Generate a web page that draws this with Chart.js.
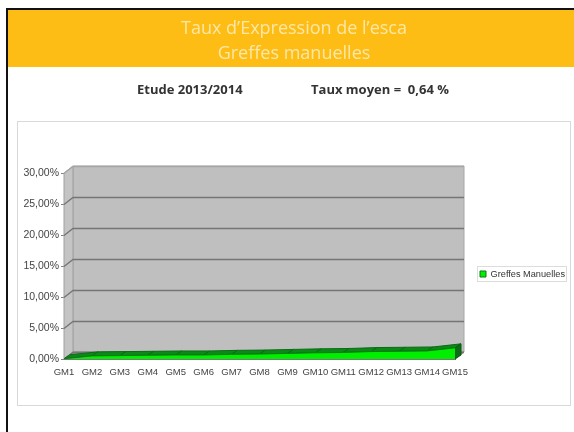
<!DOCTYPE html>
<html lang="fr">
<head>
<meta charset="utf-8">
<script src="https://cdn.jsdelivr.net/npm/chart.js@4"></script>
<style>
  html,body{margin:0;padding:0;background:#fff;width:574px;height:432px;overflow:hidden}
  #page{position:absolute;left:0;top:0;width:574px;height:432px;filter:blur(0.55px)}
  .abs{position:absolute}
  #edgeTop{left:6px;top:8px;width:568px;height:2px;background:#111}
  #edgeLeft{left:6px;top:8px;width:2px;height:424px;background:#111}
  #banner{left:8px;top:10px;width:566px;height:57px;background:#fdbd14}
  .t{font-family:"Open Sans",sans-serif;white-space:nowrap}
  .title{color:#fde7a8;font-size:18px;line-height:20px;left:0;width:574px;text-align:center;transform:translateX(7px)}
  .sub{color:#333;font-size:13px;font-weight:700;line-height:16px;top:81px}
  #panel{left:17px;top:121px;width:552px;height:283px;border:1.5px solid #d9d9d9;box-sizing:content-box}
  canvas{position:absolute;left:0;top:0}
</style>
</head>
<body>
<div id="page">
  <div class="abs" id="banner"></div>
  <div class="abs" id="edgeTop"></div>
  <div class="abs" id="edgeLeft"></div>
  <div class="abs t title" style="top:17px">Taux d’Expression de l’esca</div>
  <div class="abs t title" style="top:42px">Greffes manuelles</div>
  <div class="abs t sub" style="left:137px">Etude 2013/2014</div>
  <div class="abs t sub" style="left:311px">Taux moyen =&nbsp; 0,64 %</div>
  <div class="abs" id="panel"></div>
  <canvas id="c" width="574" height="432"></canvas>
</div>
<script>
const categories = ["GM1","GM2","GM3","GM4","GM5","GM6","GM7","GM8","GM9","GM10","GM11","GM12","GM13","GM14","GM15"];
const seriesName = "Greffes Manuelles";
const seriesValues = [0.05,0.5,0.55,0.6,0.65,0.65,0.75,0.8,0.9,1.0,1.05,1.2,1.25,1.3,1.8];
const yMin = 0, yMax = 30, yStep = 5;

const DX = 9, DY = -7;     // depth of the walls
const SX = 6, SY = -4;     // depth of the area series
const wallColor = "#bfbfbf", sideColor = "#c4c4c4", gridColor = "#757575";

function poly(ctx, pts, fill, stroke) {
  ctx.beginPath();
  pts.forEach((p, i) => i ? ctx.lineTo(p[0], p[1]) : ctx.moveTo(p[0], p[1]));
  ctx.closePath();
  if (fill) { ctx.fillStyle = fill; ctx.fill(); }
  if (stroke) { ctx.strokeStyle = stroke; ctx.lineWidth = 1; ctx.stroke(); }
}

const depth3d = {
  id: "depth3d",
  afterLayout(chart) {
    const l = chart.legend;
    l.left = 477; l.right = 567; l.top = 266; l.bottom = 282;
    l.width = 90; l.height = 16;
  },
  beforeDatasetsDraw(chart) {
    const ctx = chart.ctx, a = chart.chartArea, y = chart.scales.y;
    const L = a.left, R = a.right, T = a.top, B = a.bottom;
    ctx.save();
    poly(ctx, [[L+DX,T+DY],[R+DX,T+DY],[R+DX,B+DY],[L+DX,B+DY]], wallColor, "#a6a6a6");
    poly(ctx, [[L,T],[L+DX,T+DY],[L+DX,B+DY],[L,B]], sideColor, "#a0a0a0");
    poly(ctx, [[L,B],[L+DX,B+DY],[R+DX,B+DY],[R,B]], "#9a9a9a", "#808080");
    y.ticks.forEach(t => {
      const py = Math.round(y.getPixelForValue(t.value)) + 0.5;
      ctx.beginPath();
      ctx.moveTo(L, py);
      ctx.lineTo(L+DX, py+DY);
      ctx.lineTo(R+DX, py+DY);
      ctx.strokeStyle = t.value === yMax ? "#a6a6a6" : gridColor;
      ctx.lineWidth = 1.3;
      ctx.stroke();
    });
    const pts = chart.getDatasetMeta(0).data;
    for (let i = 0; i < pts.length - 1; i++) {
      const p = pts[i], q = pts[i+1];
      poly(ctx, [[p.x,p.y],[q.x,q.y],[q.x+SX,q.y+SY],[p.x+SX,p.y+SY]], "#0c8a18", "#0a6c14");
    }
    const e = pts[pts.length-1];
    poly(ctx, [[e.x,e.y],[e.x+SX,e.y+SY],[e.x+SX,B+SY],[e.x,B]], "#0a6e14", "#0a5c10");
    ctx.restore();
  },
  afterDraw(chart) {
    const ctx = chart.ctx, l = chart.legend;
    ctx.save();
    ctx.strokeStyle = "#dcdcdc";
    ctx.lineWidth = 1;
    ctx.strokeRect(l.left + 0.5, l.top + 0.5, l.right - l.left - 1, l.bottom - l.top - 1);
    ctx.restore();
  }
};

new Chart(document.getElementById("c"), {
  type: "line",
  data: {
    labels: categories,
    datasets: [{
      label: seriesName,
      data: seriesValues,
      fill: "origin",
      backgroundColor: "#00ee00",
      borderColor: "#0a7a14",
      borderWidth: 1,
      pointRadius: 0,
      tension: 0
    }]
  },
  plugins: [depth3d],
  options: {
    responsive: false,
    animation: false,
    layout: { padding: { left: 0, top: 173, right: 119, bottom: 0 } },
    scales: {
      x: {
        offset: false,
        afterFit(s) { s.height = 73; },
        grid: { display: false, drawOnChartArea: false, drawTicks: true, tickLength: 3, tickColor: "#808080" },
        border: { color: "#707070" },
        ticks: { autoSkip: false, maxRotation: 0, minRotation: 0, padding: 5, color: "#444",
                 font: { family: "Liberation Sans", size: 9.5 } }
      },
      y: {
        min: yMin, max: yMax,
        afterFit(s) { s.width = 64; },
        grid: { drawOnChartArea: false, tickLength: 3, tickColor: "#808080" },
        border: { color: "#a0a0a0" },
        ticks: { stepSize: yStep, padding: 2, color: "#444",
                 font: { family: "Liberation Sans", size: 10.5 },
                 callback: v => v.toFixed(2).replace(".", ",") + "%" }
      }
    },
    plugins: {
      title: { display: false },
      tooltip: { enabled: false },
      legend: {
        display: true,
        position: "chartArea",
        align: "center",
        labels: { boxWidth: 6, boxHeight: 6, padding: 3, color: "#333",
                  font: { family: "Liberation Sans", size: 9.2 } }
      }
    }
  }
});
</script>
</body>
</html>
